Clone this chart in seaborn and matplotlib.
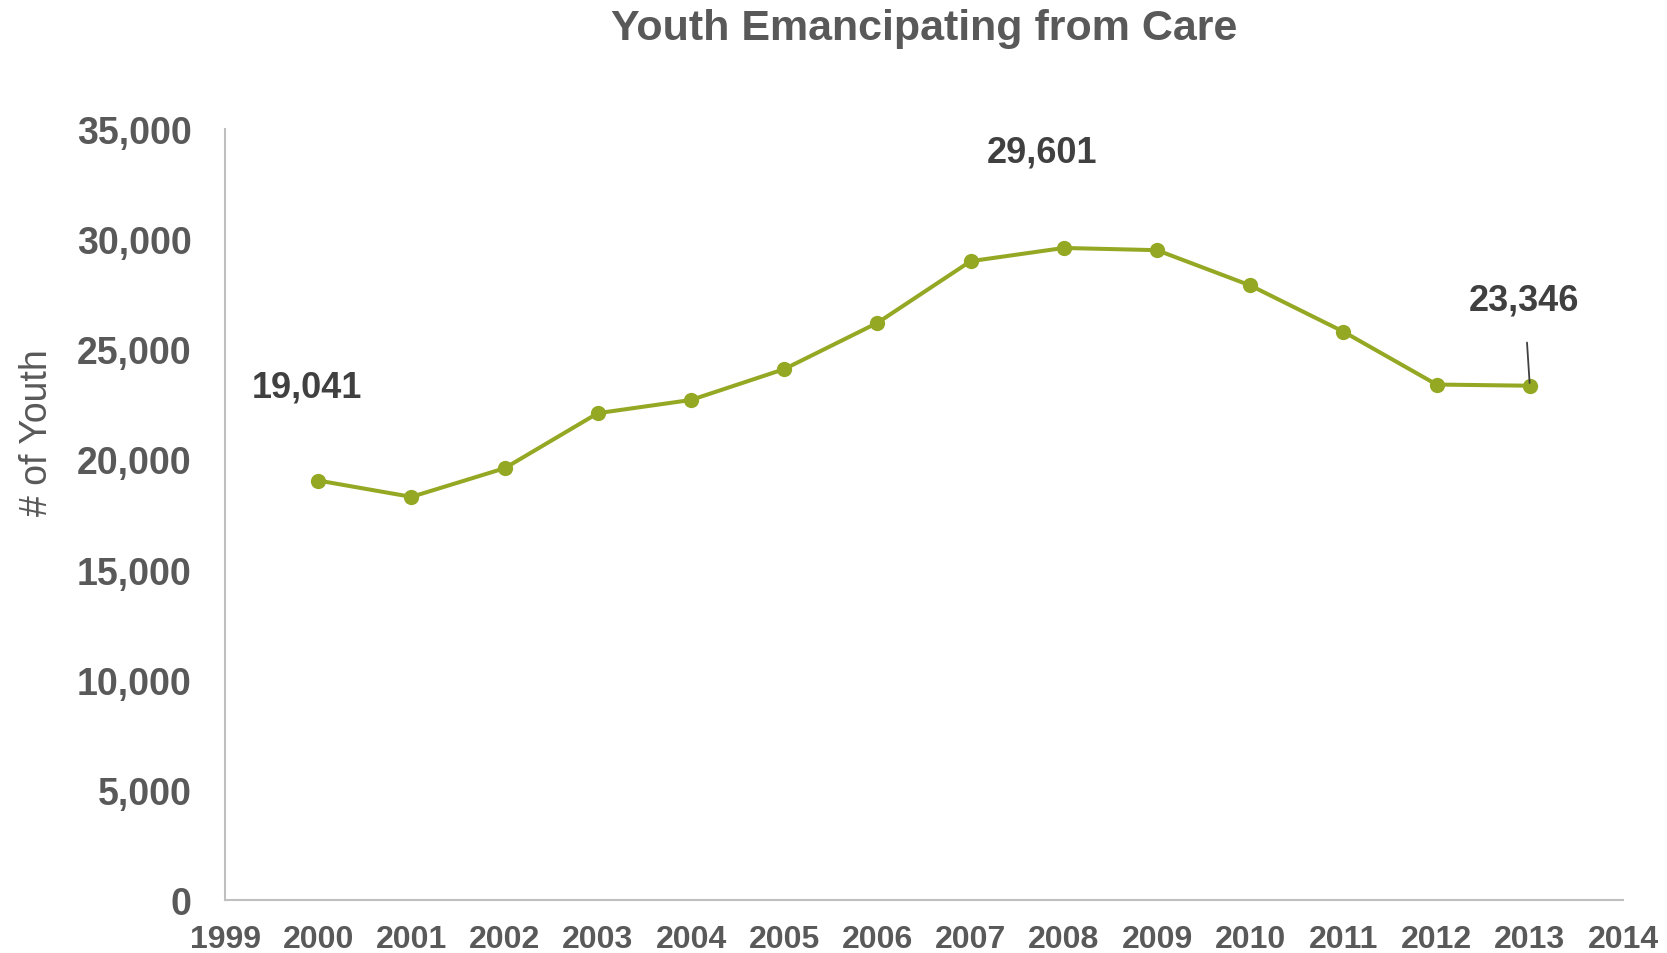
import matplotlib
matplotlib.use("Agg")
import matplotlib.pyplot as plt
import seaborn as sns
import pandas as pd
from matplotlib.ticker import FuncFormatter

years = [2000, 2001, 2002, 2003, 2004, 2005, 2006, 2007, 2008, 2009, 2010, 2011, 2012, 2013]
youth = [19041, 18300, 19600, 22100, 22700, 24100, 26200, 29000, 29601, 29500, 27900, 25800, 23400, 23346]
labelled = {2000: "19,041", 2008: "29,601", 2013: "23,346"}
x_ticks = list(range(1999, 2015))
y_ticks = list(range(0, 35001, 5000))

sns.set_style("white")
plt.rcParams['font.family'] = ['Liberation Sans', 'DejaVu Sans']

GREEN = "#95A823"
GRAY = "#595959"
DARK = "#404040"

df = pd.DataFrame({"Year": years, "Youth": youth})

fig = plt.figure(figsize=(16.67, 9.54), dpi=100)
ax = fig.add_axes([0.135, 0.0556, 0.8386, 0.8081])

sns.lineplot(data=df, x="Year", y="Youth", ax=ax, color=GREEN, linewidth=2.9,
             marker="o", markersize=11, markeredgewidth=0, markerfacecolor=GREEN)

ax.set_xlim(1999, 2014)
ax.set_ylim(0, 35000)
ax.set_xticks(x_ticks)
ax.set_yticks(y_ticks)
ax.yaxis.set_major_formatter(FuncFormatter(lambda v, p: f"{int(v):,}"))
ax.tick_params(axis='both', length=0)
ax.tick_params(axis='x', pad=17, labelsize=23, labelcolor=GRAY)
ax.tick_params(axis='y', pad=24, labelsize=27, labelcolor=GRAY)
for lab in ax.get_xticklabels() + ax.get_yticklabels():
    lab.set_fontweight('bold')

for s in ['top', 'right']:
    ax.spines[s].set_visible(False)
for s in ['left', 'bottom']:
    ax.spines[s].set_color("#BFBFBF")
    ax.spines[s].set_linewidth(1.5)

ax.set_xlabel("")
ax.set_ylabel("# of Youth", fontsize=27, color=GRAY)
ax.yaxis.set_label_coords(-0.1215, 0.608)

ax.set_title("Youth Emancipating from Care", fontsize=31, fontweight='bold',
             color=GRAY, pad=65)

offsets = {2000: (-8, 67), 2008: (-16, 69), 2013: (-4, 62)}
for yr, txt in labelled.items():
    val = youth[years.index(yr)]
    if yr == 2013:
        ax.annotate(txt, xy=(yr, val), xytext=offsets[yr], textcoords='offset points',
                    ha='center', va='center', fontsize=26, fontweight='bold', color=DARK,
                    arrowprops=dict(arrowstyle='-', color=DARK, lw=1.3,
                                    shrinkA=16, shrinkB=2))
    else:
        ax.annotate(txt, xy=(yr, val), xytext=offsets[yr], textcoords='offset points',
                    ha='center', va='center', fontsize=26, fontweight='bold', color=DARK)

fig.savefig("out.png", dpi=100)
